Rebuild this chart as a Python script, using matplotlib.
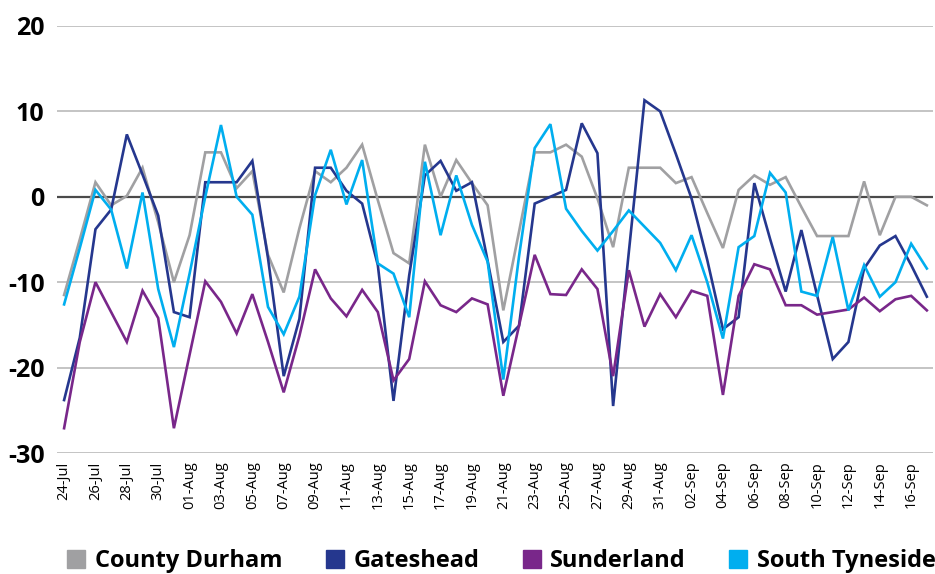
import matplotlib
matplotlib.use('Agg')
import matplotlib.pyplot as plt
from matplotlib.lines import Line2D
import numpy as np

# daily values, 24-Jul to 17-Sep
county_durham = [-11.5, -5.0, 1.7, -1.0, 0.1, 3.4, -3.0, -10.0, -4.5, 5.2,
                 5.2, 1.0, 3.0, -6.8, -11.2, -3.7, 3.0, 1.7, 3.4, 6.1,
                 -0.4, -6.6, -7.8, 6.1, 0.0, 4.3, 1.6, -1.0, -13.3, -4.1,
                 5.2, 5.2, 6.1, 4.7, -0.2, -5.9, 3.4, 3.4, 3.4, 1.6,
                 2.3, -1.9, -6.0, 0.8, 2.5, 1.4, 2.3, -1.2, -4.6, -4.6,
                 -4.6, 1.8, -4.5, 0.0, 0.0, -1.0]
gateshead = [-23.8, -16.5, -3.8, -1.5, 7.3, 2.6, -2.2, -13.5, -14.1, 1.7,
             1.7, 1.7, 4.2, -7.2, -21.0, -14.3, 3.4, 3.4, 0.7, -0.8,
             -8.0, -23.9, -9.2, 2.5, 4.2, 0.7, 1.7, -7.5, -17.0, -15.1,
             -0.8, 0.0, 0.8, 8.6, 5.1, -24.5, -6.5, 11.3, 10.0, 5.0,
             -0.2, -7.4, -15.5, -14.1, 1.6, -4.9, -11.1, -3.9, -11.5, -19.0,
             -17.0, -8.4, -5.7, -4.6, -8.0, -11.7]
sunderland = [-27.1, -17.0, -10.0, -13.5, -17.0, -11.0, -14.2, -27.1, -18.5, -9.9,
              -12.3, -16.0, -11.4, -17.0, -22.9, -16.3, -8.5, -11.9, -14.0, -10.9,
              -13.5, -21.5, -19.0, -9.9, -12.7, -13.5, -11.9, -12.6, -23.3, -15.1,
              -6.8, -11.4, -11.5, -8.5, -10.8, -21.0, -8.6, -15.2, -11.4, -14.1,
              -11.0, -11.6, -23.2, -11.6, -7.9, -8.5, -12.7, -12.7, -13.8, -13.5,
              -13.2, -11.8, -13.4, -12.0, -11.6, -13.3]
south_tyneside = [-12.6, -6.0, 0.8, -1.5, -8.4, 0.5, -10.8, -17.6, -9.0, 0.0,
                  8.4, 0.0, -2.1, -12.9, -16.1, -11.7, 0.2, 5.5, -0.9, 4.3,
                  -7.8, -9.0, -14.1, 4.1, -4.5, 2.5, -3.3, -7.6, -21.4, -7.0,
                  5.7, 8.5, -1.4, -4.0, -6.3, -4.0, -1.6, -3.5, -5.4, -8.6,
                  -4.5, -10.0, -16.6, -5.9, -4.6, 2.8, 0.5, -11.1, -11.6, -4.7,
                  -13.3, -8.0, -11.7, -10.0, -5.5, -8.4]

tick_labels = ['24-Jul', '26-Jul', '28-Jul', '30-Jul', '01-Aug', '03-Aug', '05-Aug',
               '07-Aug', '09-Aug', '11-Aug', '13-Aug', '15-Aug', '17-Aug', '19-Aug',
               '21-Aug', '23-Aug', '25-Aug', '27-Aug', '29-Aug', '31-Aug', '02-Sep',
               '04-Sep', '06-Sep', '08-Sep', '10-Sep', '12-Sep', '14-Sep', '16-Sep']
y_ticks = [-30, -20, -10, 0, 10, 20]

names = ['County Durham', 'Gateshead', 'Sunderland', 'South Tyneside']
colors = ['#a0a0a2', '#25378e', '#79278a', '#00aeef']

plt.rcParams['font.family'] = ['Open Sans', 'DejaVu Sans']

fig = plt.figure(figsize=(9.35, 5.74), dpi=100)
ax = fig.add_axes([0.061, 0.2108, 0.937, 0.744])

x = np.arange(len(county_durham))
for vals, col in zip([county_durham, gateshead, sunderland, south_tyneside], colors):
    ax.plot(x, vals, color=col, lw=1.9, solid_joinstyle='miter', zorder=3)

ax.set_ylim(-30, 20)
ax.set_xlim(-0.45, 55.4)
ax.set_yticks(y_ticks)
ax.set_yticklabels([str(v) for v in y_ticks], fontsize=18, fontweight='bold')
for v in y_ticks:
    if v != 0:
        ax.axhline(v, color='#b4b4b4', lw=1.1, zorder=1)
ax.axhline(0, color='#4a4a4a', lw=1.6, zorder=2)

ax.set_xticks(x[::2])
ax.set_xticklabels(tick_labels, rotation=90, fontsize=10.5, fontweight='medium')
ax.tick_params(axis='x', length=0, pad=6)
ax.tick_params(axis='y', length=0, pad=9)
for s in ax.spines.values():
    s.set_visible(False)

handles = [Line2D([], [], marker='s', linestyle='none', markersize=12.5,
                  markerfacecolor=c, markeredgecolor=c) for c in colors]
fig.legend(handles, names, loc='lower center', bbox_to_anchor=(0.535, -0.036),
           ncol=4, frameon=False, prop={'size': 17, 'weight': 'bold'},
           handletextpad=0.3, columnspacing=1.7, handlelength=1.0)

fig.savefig('out.png', dpi=100)
